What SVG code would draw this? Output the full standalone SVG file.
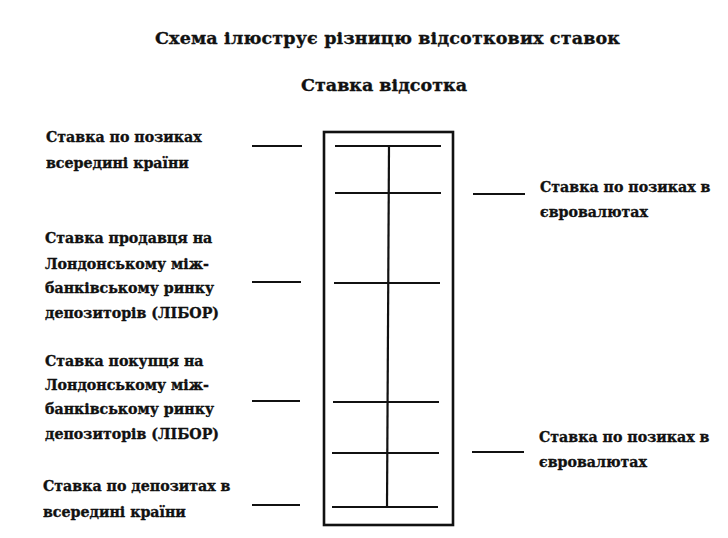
<svg xmlns="http://www.w3.org/2000/svg" width="728" height="538" viewBox="0 0 728 538">
<style>
text{font-family:"DejaVu Serif","Liberation Serif",serif;font-weight:bold;fill:#111;stroke:#111;stroke-width:0.35;}
.t{font-size:17.5px;}
.l{font-size:14.2px;}
.ln{stroke:#111;stroke-width:2.2;fill:none;stroke-linecap:butt;}
.box{stroke:#111;stroke-width:2.6;fill:none;}
</style>
<rect width="728" height="538" fill="#fff"/>
<g id="title">
<text class="t" x="155" y="44" textLength="465" lengthAdjust="spacing">Схема ілюструє різницю відсоткових ставок</text>
<text class="t" x="384" y="91" text-anchor="middle">Ставка відсотка</text>
</g>
<g id="scale">
<rect class="box" x="324" y="132" width="129" height="393"/>
<line class="ln" x1="389" y1="146" x2="387" y2="507"/>
<line class="ln" x1="335" y1="146" x2="441" y2="146"/>
<line class="ln" x1="335" y1="193" x2="441" y2="193"/>
<line class="ln" x1="334" y1="283" x2="440" y2="283"/>
<line class="ln" x1="333" y1="402" x2="439" y2="402"/>
<line class="ln" x1="332" y1="453" x2="439" y2="453"/>
<line class="ln" x1="332" y1="507" x2="438" y2="507"/>
</g>
<g id="connectors">
<line class="ln" x1="252" y1="146" x2="302" y2="146"/>
<line class="ln" x1="252" y1="282" x2="301" y2="282"/>
<line class="ln" x1="252" y1="401" x2="300" y2="401"/>
<line class="ln" x1="252" y1="505" x2="300" y2="505"/>
<line class="ln" x1="473" y1="194" x2="525" y2="194"/>
<line class="ln" x1="472" y1="452" x2="524" y2="452"/>
</g>
<g id="n1">
<text class="l" x="46" y="142">Ставка по позиках</text>
<text class="l" x="46" y="168">всередині країни</text>
</g>
<g id="n2">
<text class="l" x="45" y="243">Ставка продавця на</text>
<text class="l" x="45" y="269">Лондонському між-</text>
<text class="l" x="45" y="293">банківському ринку</text>
<text class="l" x="45" y="318">депозиторів (ЛІБОР)</text>
</g>
<g id="n3">
<text class="l" x="45" y="366">Ставка покупця на</text>
<text class="l" x="45" y="390">Лондонському між-</text>
<text class="l" x="45" y="414">банківському ринку</text>
<text class="l" x="45" y="439">депозиторів (ЛІБОР)</text>
</g>
<g id="n4">
<text class="l" x="43" y="491">Ставка по депозитах в</text>
<text class="l" x="43" y="517">всередині країни</text>
</g>
<g id="n5">
<text class="l" x="540" y="192">Ставка по позиках в</text>
<text class="l" x="540" y="217">євровалютах</text>
</g>
<g id="n6">
<text class="l" x="539" y="442">Ставка по позиках в</text>
<text class="l" x="539" y="467">євровалютах</text>
</g>
</svg>
